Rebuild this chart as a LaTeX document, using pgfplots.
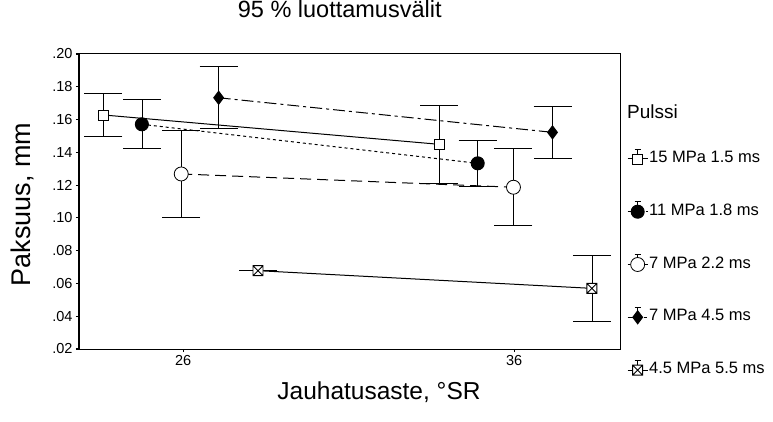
\documentclass[border=0pt]{standalone}
\usepackage{fontspec}
\setmainfont{Liberation Sans}
\usepackage{pgfplots}
\pgfplotsset{compat=1.18}

% square with a cross inside (hourglass-like marker)
\pgfdeclareplotmark{boxx}{%
  \pgfpathrectangle{\pgfqpoint{-\pgfplotmarksize}{-\pgfplotmarksize}}{\pgfqpoint{2\pgfplotmarksize}{2\pgfplotmarksize}}%
  \pgfpathmoveto{\pgfqpoint{-\pgfplotmarksize}{\pgfplotmarksize}}%
  \pgfpathlineto{\pgfqpoint{\pgfplotmarksize}{-\pgfplotmarksize}}%
  \pgfpathmoveto{\pgfqpoint{-\pgfplotmarksize}{-\pgfplotmarksize}}%
  \pgfpathlineto{\pgfqpoint{\pgfplotmarksize}{\pgfplotmarksize}}%
  \pgfusepathqfillstroke}

\pgfplotsset{
  ci/.style={
    error bars/.cd, y dir=both, y explicit,
    error mark=|,
    error bar style={solid, line width=0.7pt},
    error mark options={solid, line width=0.8pt, mark size=19pt, fill=none}},
  pulse legend/.style={
    legend image code/.code={
      \draw[##1, mark=none] (-10pt,0pt) -- (10pt,0pt);
      \draw[solid, line width=0.6pt] (0pt,2pt) -- (0pt,10pt) (-3pt,10pt) -- (3pt,10pt);
      \draw[##1] plot coordinates {(0pt,0pt)};
    }},
}

\begin{document}
\begin{tikzpicture}
\path[use as bounding box] (-79pt,-72pt) rectangle (694pt,349pt);
\begin{axis}[
  at={(0pt,0pt)}, anchor=south west,
  scale only axis, width=541pt, height=295pt,
  xmin=22.85, xmax=39.2, ymin=0.02, ymax=0.20,
  xtick={26,36}, xticklabels={26,36},
  ytick={0.02,0.04,0.06,0.08,0.10,0.12,0.14,0.16,0.18,0.20},
  yticklabels={.02,.04,.06,.08,.10,.12,.14,.16,.18,.20},
  tick align=outside, xtick pos=bottom, ytick pos=left,
  major tick length=3pt,
  tick style={black, line width=1.2pt},
  axis line style={line width=1pt},
  ticklabel style={font=\fontsize{14.5}{16}\selectfont},
  /pgf/number format/assume math mode=true,
  title={95 \% luottamusvälit},
  title style={at={(axis description cs:0.482,1.132)}, anchor=center, font=\fontsize{23.5}{27}\selectfont},
  xlabel={Jauhatusaste, °SR},
  xlabel style={at={(axis description cs:0.5545,-0.1458)}, anchor=center, font=\fontsize{24.5}{28}\selectfont},
  ylabel={Paksuus, mm},
  ylabel style={at={(axis description cs:-0.105,0.49)}, anchor=center, font=\fontsize{27}{30}\selectfont},
  legend style={at={(axis description cs:1.0129,0.68)}, anchor=north west,
    draw=none, fill=none, inner sep=0pt,
    font=\fontsize{16.5}{18}\selectfont,
    nodes={inner sep=1pt, text height=10pt, text depth=3pt},
    row sep=35pt},
  legend cell align=left,
  clip=false,
]
% thicker left spine
\draw[line width=2pt] (rel axis cs:0,0) -- (rel axis cs:0,1);

\addplot[black, line width=1pt, mark=square*, mark size=5pt,
  mark options={solid, fill=white, line width=0.8pt}, pulse legend, ci]
  coordinates {(23.59,0.1628) +- (0,0.013) (33.73,0.1449) +- (0,0.0236)};
\addlegendentry{15 MPa 1.5 ms}

\addplot[black, line width=1pt, dash pattern=on 3pt off 3pt, mark=*, mark size=6.5pt,
  mark options={solid, fill=black}, pulse legend, ci]
  coordinates {(24.75,0.1571) +- (0,0.015) (34.90,0.1333) +- (0,0.0138)};
\addlegendentry{11 MPa 1.8 ms}

\addplot[black, line width=1pt, dash pattern=on 11pt off 6pt, mark=*, mark size=7pt,
  mark options={solid, fill=white, line width=0.8pt}, pulse legend, ci]
  coordinates {(25.94,0.1268) +- (0,0.0265) (35.98,0.1187) +- (0,0.0234)};
\addlegendentry{7 MPa 2.2 ms}

\addplot[black, line width=1pt, dash pattern=on 12pt off 4pt on 3pt off 4pt, mark=diamond*, mark size=6.5pt,
  mark options={solid, fill=black}, pulse legend, ci]
  coordinates {(27.07,0.1733) +- (0,0.019) (37.16,0.1522) +- (0,0.016)};
\addlegendentry{7 MPa 4.5 ms}

\addplot[black, line width=1pt, mark=boxx, mark size=5pt,
  mark options={solid, fill=white, line width=0.9pt}, pulse legend, ci]
  coordinates {(28.26,0.0678) +- (0,0) (38.35,0.0570) +- (0,0.0204)};
\addlegendentry{4.5 MPa 5.5 ms}

\node[anchor=west, font=\fontsize{19}{22}\selectfont, inner sep=0pt] at (rel axis cs:1.0129,0.803) {Pulssi};
\end{axis}
\end{tikzpicture}
\end{document}
